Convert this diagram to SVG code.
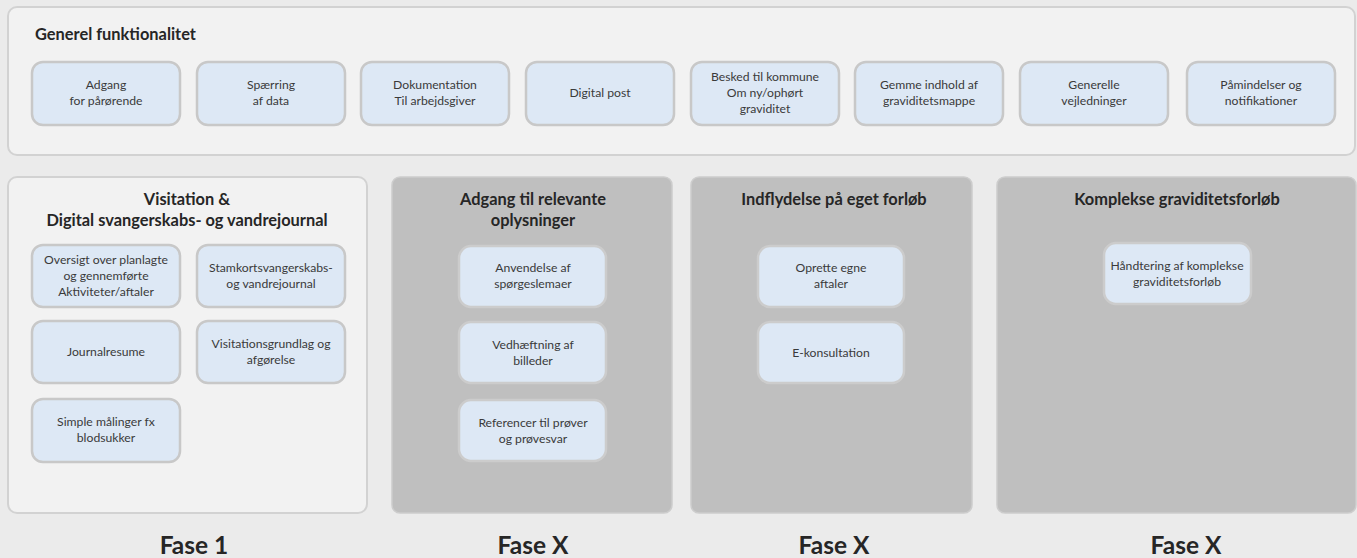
<svg xmlns="http://www.w3.org/2000/svg" width="1357" height="558" viewBox="0 0 1357 558">
<style>
.bg{fill:#ebebeb}
.panel{fill:#f2f2f2;stroke:#d2d2d2;stroke-width:2}
.dpanel{fill:#bfbfbf;stroke:#cdcdcd;stroke-width:1.5}
.box{fill:#dde8f5;stroke:#c8c8c8;stroke-width:2.5}
.dbox{fill:#dde8f5;stroke:#cccccc;stroke-width:2.5}
text{font-family:Lato,"Liberation Sans",sans-serif;fill:#3a3a3a}
.t{font-size:12.2px;text-anchor:middle}
.h{font-size:16.4px;font-weight:bold;fill:#262626;text-anchor:middle}
.f{font-size:24.5px;font-weight:bold;fill:#262626;text-anchor:middle}
</style>
<rect class="bg" x="0" y="0" width="1357" height="558"/>
<g id="generel">
<rect class="panel" x="8" y="7" width="1347" height="148" rx="9"/>
<text x="35" y="40" style="font-size:16.4px;font-weight:bold;fill:#262626">Generel funktionalitet</text>
</g>
<g id="g1"><rect class="box" x="32" y="62" width="148" height="63" rx="11"/><text class="t" x="106" y="89">Adgang</text><text class="t" x="106" y="105">for pårørende</text></g>
<g id="g2"><rect class="box" x="197" y="62" width="148" height="63" rx="11"/><text class="t" x="271" y="89">Spærring</text><text class="t" x="271" y="105">af data</text></g>
<g id="g3"><rect class="box" x="361" y="62" width="148" height="63" rx="11"/><text class="t" x="435" y="89">Dokumentation</text><text class="t" x="435" y="105">Til arbejdsgiver</text></g>
<g id="g4"><rect class="box" x="526" y="62" width="148" height="63" rx="11"/><text class="t" x="600" y="97">Digital post</text></g>
<g id="g5"><rect class="box" x="691" y="62" width="148" height="63" rx="11"/><text class="t" x="765" y="81">Besked til kommune</text><text class="t" x="765" y="97">Om ny/ophørt</text><text class="t" x="765" y="113">graviditet</text></g>
<g id="g6"><rect class="box" x="855" y="62" width="148" height="63" rx="11"/><text class="t" x="929" y="89">Gemme indhold af</text><text class="t" x="929" y="105">graviditetsmappe</text></g>
<g id="g7"><rect class="box" x="1020" y="62" width="148" height="63" rx="11"/><text class="t" x="1094" y="89">Generelle</text><text class="t" x="1094" y="105">vejledninger</text></g>
<g id="g8"><rect class="box" x="1187" y="62" width="148" height="63" rx="11"/><text class="t" x="1261" y="89">Påmindelser og</text><text class="t" x="1261" y="105">notifikationer</text></g>

<g id="fase1">
<rect class="panel" x="8" y="177" width="359" height="336" rx="9"/>
<text class="h" x="187" y="205">Visitation &amp;</text>
<text class="h" x="187" y="226">Digital svangerskabs- og vandrejournal</text>
<text class="f" x="194" y="554">Fase 1</text>
</g>
<g id="p1a"><rect class="box" x="32" y="245" width="148" height="62" rx="11"/><text class="t" x="106" y="264">Oversigt over planlagte</text><text class="t" x="106" y="280">og gennemførte</text><text class="t" x="106" y="296">Aktiviteter/aftaler</text></g>
<g id="p1b"><rect class="box" x="197" y="245" width="148" height="62" rx="11"/><text class="t" x="271" y="272">Stamkortsvangerskabs-</text><text class="t" x="271" y="288">og vandrejournal</text></g>
<g id="p1c"><rect class="box" x="32" y="321" width="148" height="62" rx="11"/><text class="t" x="106" y="356">Journalresume</text></g>
<g id="p1d"><rect class="box" x="197" y="321" width="148" height="62" rx="11"/><text class="t" x="271" y="348">Visitationsgrundlag og</text><text class="t" x="271" y="364">afgørelse</text></g>
<g id="p1e"><rect class="box" x="32" y="399" width="148" height="63" rx="11"/><text class="t" x="106" y="426">Simple målinger fx</text><text class="t" x="106" y="442">blodsukker</text></g>

<g id="fase2">
<rect class="dpanel" x="392" y="177" width="280" height="336" rx="8"/>
<text class="h" x="533" y="205">Adgang til relevante</text>
<text class="h" x="533" y="226">oplysninger</text>
<text class="f" x="533" y="554">Fase X</text>
</g>
<g id="p2a"><rect class="dbox" x="459" y="246" width="147" height="61" rx="12"/><text class="t" x="533" y="272">Anvendelse af</text><text class="t" x="533" y="288">spørgeslemaer</text></g>
<g id="p2b"><rect class="dbox" x="459" y="322" width="147" height="61" rx="12"/><text class="t" x="533" y="349">Vedhæftning af</text><text class="t" x="533" y="365">billeder</text></g>
<g id="p2c"><rect class="dbox" x="459" y="400" width="147" height="61" rx="12"/><text class="t" x="533" y="427">Referencer til prøver</text><text class="t" x="533" y="443">og prøvesvar</text></g>

<g id="fase3">
<rect class="dpanel" x="691" y="177" width="281" height="336" rx="8"/>
<text class="h" x="834" y="205">Indflydelse på eget forløb</text>
<text class="f" x="834" y="554">Fase X</text>
</g>
<g id="p3a"><rect class="dbox" x="758" y="246" width="146" height="61" rx="12"/><text class="t" x="831" y="272">Oprette egne</text><text class="t" x="831" y="288">aftaler</text></g>
<g id="p3b"><rect class="dbox" x="758" y="322" width="146" height="61" rx="12"/><text class="t" x="831" y="357">E-konsultation</text></g>

<g id="fase4">
<rect class="dpanel" x="997" y="177" width="359" height="336" rx="8"/>
<text class="h" x="1177" y="205">Komplekse graviditetsforløb</text>
<text class="f" x="1186" y="554">Fase X</text>
</g>
<g id="p4a"><rect class="dbox" x="1104" y="243" width="147" height="61" rx="12"/><text class="t" x="1177" y="270">Håndtering af komplekse</text><text class="t" x="1177" y="286">graviditetsforløb</text></g>
<g id="connectors"/>
</svg>
